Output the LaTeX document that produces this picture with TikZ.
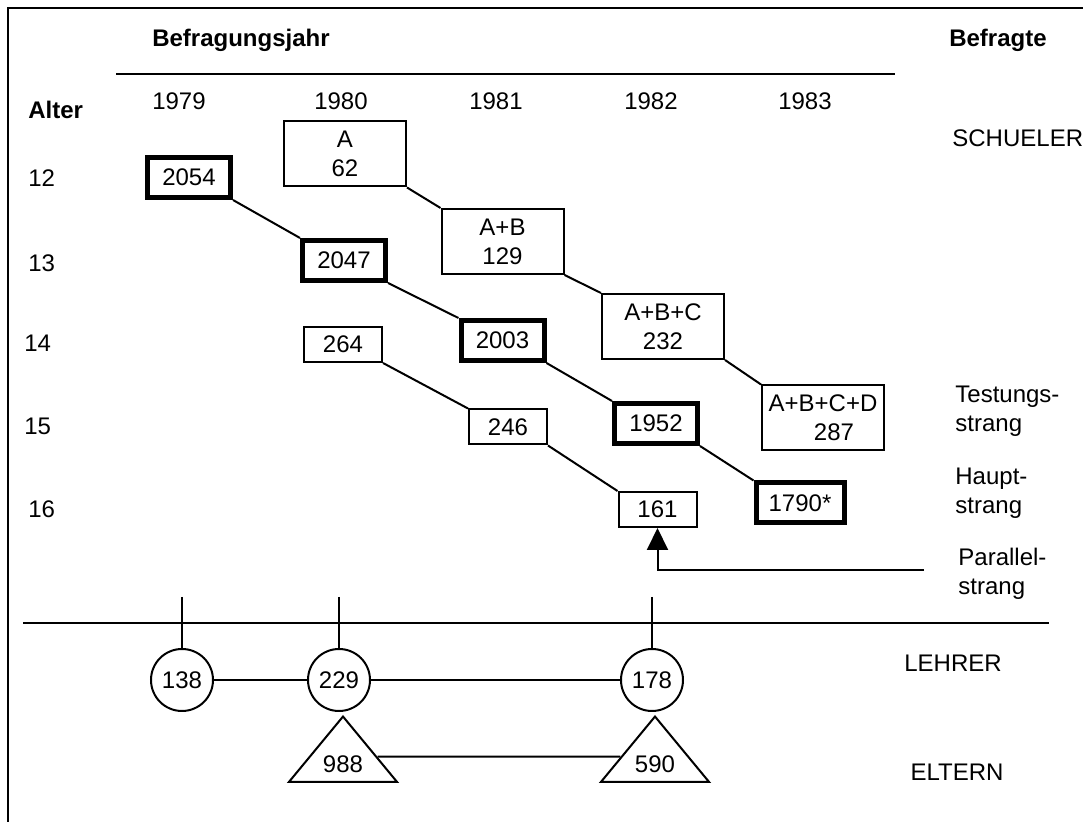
\documentclass[tikz,border=0pt]{standalone}
\usepackage{fontspec}
\setmainfont{Liberation Sans}
\usetikzlibrary{arrows.meta}
\usetikzlibrary{shapes.geometric}

\begin{document}
\begin{tikzpicture}[x=0.5pt,y=-0.5pt]
% y is negative so positions are read like pixel positions (top left origin)

% style
\tikzset{
    every node/.style={inner sep=0pt, font=\fontsize{12pt}{14.5pt}\selectfont},
    boldText/.style={font=\fontsize{12pt}{14.5pt}\selectfont\bfseries},
    baseLine/.style={draw, line width=1pt},
    thinBox/.style={baseLine, rectangle, align=center},
    wideBox/.style={thinBox, minimum width=61pt, minimum height=32.5pt},
    smallBox/.style={thinBox, minimum width=39pt, minimum height=17.5pt},
    thickBox/.style={thinBox, line width=2.5pt, minimum width=41.5pt, minimum height=20pt},
    teacher/.style={baseLine, circle, minimum size=31pt},
    parent/.style={baseLine, isosceles triangle, shape border rotate=90,
        isosceles triangle stretches, minimum width=54pt, minimum height=28.5pt},
    arrowLine/.style={baseLine, -{Triangle[length=11pt, width=10.5pt]}}
}

\useasboundingbox (0,0) rectangle (1083,822);

% frame
\coordinate (frameTop) at (1083,8);
\coordinate (frameCorner) at (8,8);
\coordinate (frameBottom) at (8,822);
\draw[baseLine] (frameTop) -- (frameCorner) -- (frameBottom);

% header
\node[boldText, anchor=base] (hYear) at (241,47) {Befragungsjahr};
\node[boldText, anchor=base] (hWho) at (998,47) {Befragte};
\coordinate (ruleL) at (116,74);
\coordinate (ruleR) at (895,74);
\draw[baseLine] (ruleL) -- (ruleR);

\foreach \yr/\x in {1979/179, 1980/341, 1981/496, 1982/651, 1983/805} {
    \node[anchor=base] (y\yr) at (\x,110) {\yr};
}

\node[boldText, anchor=base west] (hAge) at (28,119) {Alter};
\foreach \age/\x/\y in {12/28/187, 13/28/272, 14/24/352, 15/24/435, 16/28/518} {
    \node[anchor=base west] (a\age) at (\x,\y) {\age};
}

% right labels
\node[anchor=base west] (gSchueler) at (952,147) {SCHUELER};
\node[anchor=north west, align=left] (gTest) at (955,386) {Testungs-\\strang};
\node[anchor=north west, align=left] (gMain) at (955,468) {Haupt-\\strang};
\node[anchor=north west, align=left] (gPar) at (958,548) {Parallel-\\strang};
\node[anchor=base] (gLehrer) at (953,672) {LEHRER};
\node[anchor=base] (gEltern) at (957,781) {ELTERN};

% rectangles
\node[thickBox] (s2054) at (189,177.5) {2054};
\node[thickBox] (s2047) at (344,260.5) {2047};
\node[thickBox] (s2003) at (502.5,340.5) {2003};
\node[thickBox] (s1952) at (656,423.5) {1952};
\node[thickBox, minimum width=44pt] (s1790) at (800,503) {1790*};

\node[wideBox] (tA) at (345,154) {A\\62};
\node[wideBox] (tAB) at (502.5,241.5) {A+B\\129};
\node[wideBox] (tABC) at (663,326.5) {A+B+C\\232};
\node[wideBox] (tABCD) at (823,418) {A+B+C+D\\\hspace*{11pt}287};

\node[smallBox] (p264) at (343,344.5) {264};
\node[smallBox] (p246) at (508,427) {246};
\node[smallBox] (p161) at (657.5,509.5) {161};

% circles and triangles
\node[teacher] (l138) at (182,680) {138};
\node[teacher] (l229) at (339,680) {229};
\node[teacher] (l178) at (652,680) {178};
\node[parent] (e988) at (343,764) {988};
\node[parent] (e590) at (655,764) {590};

% lines
\coordinate (splitL) at (23,623);
\coordinate (splitR) at (1049,623);
\draw[baseLine] (splitL) -- (splitR);
\foreach \n/\x in {138/182, 229/339, 178/652} {
    \coordinate (k\n) at (\x,597);
    \draw[baseLine] (k\n) -- (l\n.north);
}

\draw[baseLine] (s2054.south east) -- (s2047.north west);
\draw[baseLine] (s2047.south east) -- (s2003.north west);
\draw[baseLine] (s2003.south east) -- (s1952.north west);
\draw[baseLine] (s1952.south east) -- (s1790.north west);
\draw[baseLine] (tA.south east) -- (tAB.north west);
\draw[baseLine] (tAB.south east) -- (tABC.north west);
\draw[baseLine] (tABC.south east) -- (tABCD.north west);
\draw[baseLine] (p264.south east) -- (p246.north west);
\draw[baseLine] (p246.south east) -- (p161.north west);
\draw[baseLine] (l138) -- (l229);
\draw[baseLine] (l229) -- (l178);
\draw[baseLine] (e988.12) -- (e590.168);

% arrows
\coordinate (parStart) at (924,570);
\draw[arrowLine] (parStart) -| (p161.south);

\end{tikzpicture}
\end{document}
